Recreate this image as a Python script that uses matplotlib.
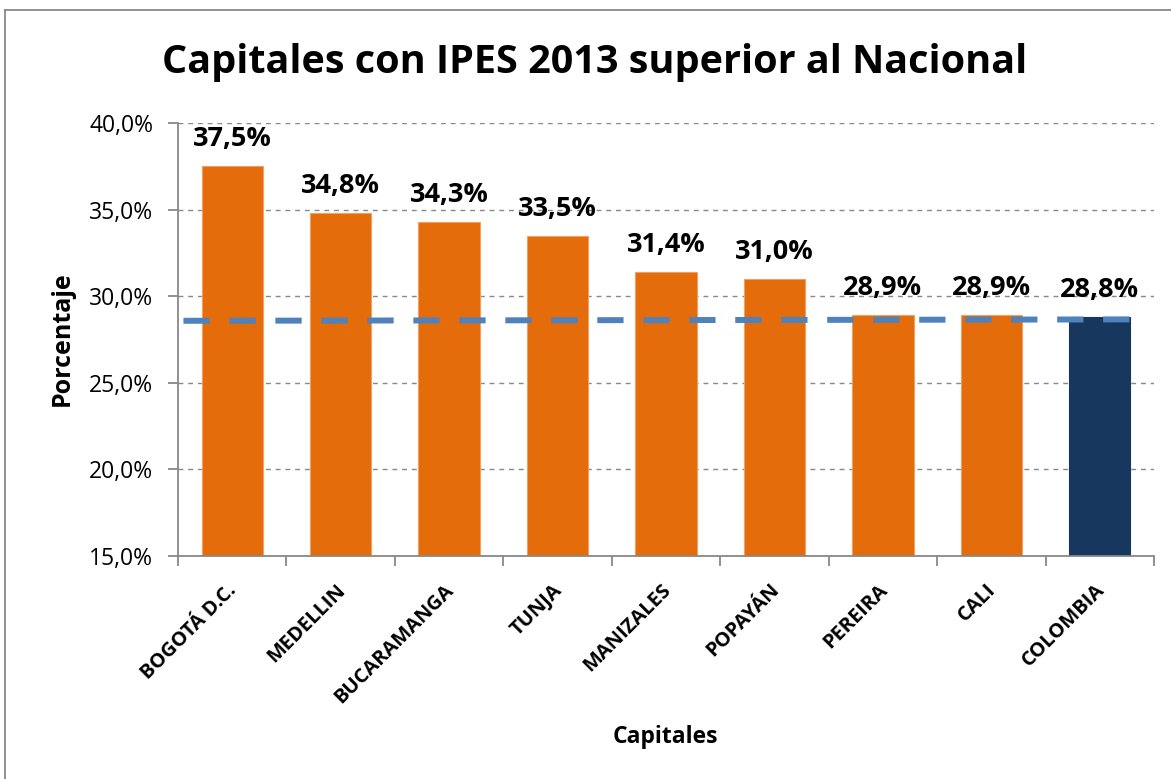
import matplotlib
matplotlib.use("Agg")
import matplotlib.pyplot as plt
from matplotlib.lines import Line2D

categories = ["BOGOTÁ D.C.", "MEDELLIN", "BUCARAMANGA", "TUNJA", "MANIZALES",
              "POPAYÁN", "PEREIRA", "CALI", "COLOMBIA"]
values = [37.5, 34.8, 34.3, 33.5, 31.4, 31.0, 28.9, 28.9, 28.8]
labels = ["37,5%", "34,8%", "34,3%", "33,5%", "31,4%", "31,0%", "28,9%", "28,9%", "28,8%"]
national_x = [-0.45, 8.3]
national_y = [28.58, 28.66]
yticks = [15, 20, 25, 30, 35, 40]
ytick_labels = ["15,0%", "20,0%", "25,0%", "30,0%", "35,0%", "40,0%"]

FONT = "Open Sans"
plt.rcParams['font.family'] = [FONT, 'DejaVu Sans']

W, H = 1171, 779
fig = plt.figure(figsize=(W / 100, H / 100), dpi=100)
ax = fig.add_axes([178 / W, 1 - 556 / H, (1154 - 178) / W, (556 - 123) / H])

orange = "#E46C0A"
navy = "#17375E"
colors = [orange] * (len(categories) - 1) + [navy]
edges = ["#F0A060"] * (len(categories) - 1) + [navy]
x = list(range(len(categories)))
ax.bar(x, [v - 15 for v in values], bottom=15, width=0.565,
       color=colors, edgecolor=edges, linewidth=0.8, zorder=2)

for xi, v, lab in zip(x, values, labels):
    ax.annotate(lab, (xi, v), xytext=(0, 14), textcoords="offset pixels",
                ha="center", va="bottom", fontsize=19.5, fontweight="bold", zorder=4)

ax.plot(national_x, national_y, color="#4F81BD", linewidth=4.3,
        dashes=(4.4, 3.3), zorder=3, solid_capstyle="butt", dash_capstyle="butt")

ax.set_xlim(-0.5, len(categories) - 0.5)
ax.set_ylim(15, 40)
ax.set_yticks(yticks)
ax.set_yticklabels(ytick_labels, fontsize=16.5)
ax.yaxis.grid(True, linestyle=(0, (3.5, 3.5)), color="#888888", linewidth=1.0, zorder=0)
ax.set_axisbelow(True)

ax.set_xticks([i - 0.5 for i in range(len(categories) + 1)])
ax.set_xticklabels([])
ax.tick_params(axis="x", length=7, width=1.3, color="#888888", direction="out")
ax.tick_params(axis="y", length=7, width=1.3, color="#888888", direction="out", pad=11)

for xi, cat in zip(x, categories):
    ax.annotate(cat, (xi - 0.05, 15), xytext=(0, -24), textcoords="offset pixels",
                ha="right", va="top", rotation=45, rotation_mode="anchor",
                fontsize=14.5, fontweight="bold", annotation_clip=False)

for s in ["top", "right"]:
    ax.spines[s].set_visible(False)
for s in ["left", "bottom"]:
    ax.spines[s].set_color("#888888")
    ax.spines[s].set_linewidth(1.3)

fig.text(595 / W, 1 - 63 / H, "Capitales con IPES 2013 superior al Nacional",
         ha="center", va="center", fontsize=28.5, fontweight="bold")
fig.text(62 / W, 1 - 339 / H, "Porcentaje", rotation=90, ha="center", va="center",
         fontsize=18, fontweight="bold")
fig.text(665 / W, 1 - 737 / H, "Capitales", ha="center", va="center",
         fontsize=16.5, fontweight="bold")

fig.add_artist(Line2D([5 / W, 5 / W], [0, 1 - 10 / H], transform=fig.transFigure,
                      color="#888888", linewidth=1.3))
fig.add_artist(Line2D([5 / W, 1], [1 - 10 / H, 1 - 10 / H], transform=fig.transFigure,
                      color="#888888", linewidth=1.3))

fig.savefig("out.png", dpi=100)
